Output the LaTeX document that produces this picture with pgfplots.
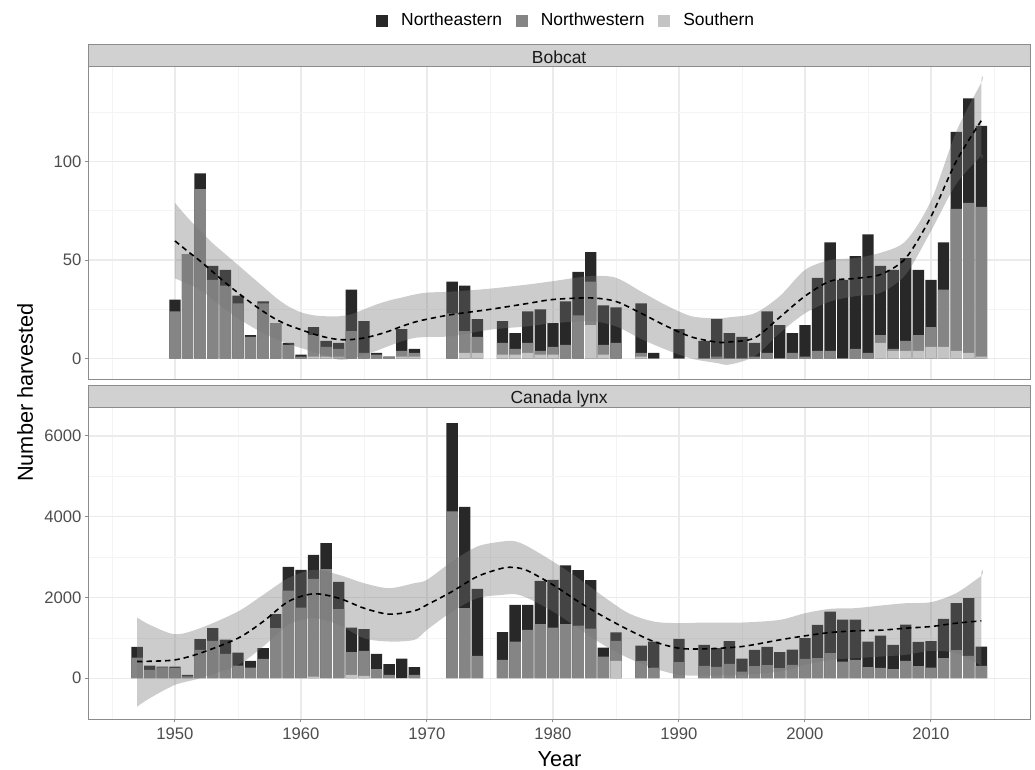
\documentclass[border=0pt]{standalone}
\usepackage{fontspec}
\setmainfont{Liberation Sans}
\usepackage{pgfplots}
\usepackage{pgfplotstable}
\pgfplotsset{compat=1.18}

\definecolor{cNE}{HTML}{282828}
\definecolor{cNW}{HTML}{858585}
\definecolor{cS}{HTML}{C4C4C4}
\definecolor{band}{HTML}{767676}
\definecolor{gridmaj}{HTML}{EBEBEB}
\definecolor{gridmin}{HTML}{F4F4F4}
\definecolor{frame}{HTML}{8C8C8C}
\definecolor{ticktext}{HTML}{4D4D4D}
\definecolor{strip}{HTML}{D1D1D1}

% bobcat harvest by region (bars)
\pgfplotstableread{
year S NW NE
1950 0 24 6
1951 0 53 0
1952 0 86 8
1953 0 40 7
1954 0 37 8
1955 0 28 4
1956 0 11 1
1957 0 28 1
1958 0 18 0
1959 0 7 1
1960 0 1 1
1961 1 11 4
1962 1 5 3
1963 1 4 3
1964 0 14 21
1965 0 3 16
1966 0 2 1
1967 0 1 0
1968 1 3 11
1969 1 2 2
1972 0 23 16
1973 3 11 23
1974 3 8 9
1976 2 6 11
1977 2 3 8
1978 3 5 16
1979 2 2 21
1980 2 4 12
1981 0 7 22
1982 0 22 22
1983 17 22 15
1984 2 5 20
1985 0 8 18
1987 1 2 25
1988 0 0 3
1990 0 0 15
1992 0 0 9
1993 0 1 19
1994 0 0 13
1995 0 0 11
1996 0 1 7
1997 0 3 21
1998 0 0 17
1999 0 3 10
2000 0 1 16
2001 0 4 37
2002 0 4 55
2003 0 0 40
2004 0 5 47
2005 0 3 60
2006 8 4 35
2007 4 1 40
2008 4 5 42
2009 4 8 33
2010 6 10 24
2011 6 29 24
2012 4 72 39
2013 3 76 53
2014 1 76 41
}\bobbars

% bobcat smoother fit
\pgfplotstableread{
year fit
1950 59.7
1951 54.5
1952 49.5
1953 44
1954 38.5
1955 33.4
1956 28.5
1957 24
1958 20
1959 17
1960 14.7
1961 12.5
1962 10.8
1963 9.7
1964 9.7
1965 10.5
1966 12
1967 14
1968 16.4
1969 18.5
1970 20
1972 22.4
1975 25
1978 28
1980 30
1983 30.8
1985 29
1987 23
1989 16.5
1991 11
1993 8.4
1994 8.5
1996 10.5
1998 21
2000 31.7
2002 39.3
2004 40.7
2006 42.7
2008 51
2010 72
2012 100
2014 120.7
}\bobfit

% Canada lynx harvest by region (bars)
\pgfplotstableread{
year S NW NE
1947 0 512 264
1948 0 206 108
1949 0 270 20
1950 0 250 40
1951 0 43 40
1952 0 702 264
1953 0 925 314
1954 0 603 355
1955 0 314 322
1956 0 264 166
1957 0 479 264
1958 0 1239 347
1959 0 2172 587
1960 0 1751 934
1961 40 2421 595
1962 0 2701 644
1963 0 1710 677
1964 83 562 611
1965 58 620 537
1966 0 223 380
1967 0 83 264
1968 0 0 487
1969 0 83 190
1972 0 4130 2189
1973 0 1735 2511
1974 0 553 1661
1976 0 454 686
1977 0 909 908
1978 0 1198 619
1979 0 1338 1074
1980 0 1256 1181
1981 0 1338 1454
1982 0 1305 1371
1983 0 1231 1197
1984 0 537 223
1985 430 496 207
1987 0 430 380
1988 0 264 644
1990 0 396 578
1992 0 306 520
1993 0 281 462
1994 0 355 562
1995 0 165 322
1996 0 297 405
1997 0 322 454
1998 0 248 396
1999 0 330 380
2000 0 479 512
2001 0 496 826
2002 0 620 1032
2003 0 413 1041
2004 0 454 1000
2005 0 273 636
2006 0 256 801
2007 0 223 603
2008 0 430 900
2009 0 297 603
2010 0 264 653
2011 0 496 974
2012 0 694 1165
2013 0 553 1429
2014 0 306 479
}\lynxbars

% lynx smoother fit
\pgfplotstableread{
year fit
1947 413
1948 420
1950 454
1952 620
1955 991
1957 1404
1959 1900
1961 2090
1963 1982
1965 1735
1967 1586
1969 1669
1970 1817
1972 2148
1974 2519
1976 2726
1977 2740
1978 2660
1980 2313
1982 1900
1984 1528
1986 1198
1988 909
1990 743
1992 727
1995 785
1998 950
2000 1049
2002 1132
2004 1173
2006 1189
2008 1239
2010 1280
2012 1363
2014 1421
}\lynxfit

\pgfplotsset{
  panel/.style={
    scale only axis,
    width=706.3pt,
    xmin=1943.12, xmax=2017.86,
    ybar, bar width=8.5pt,
    axis line style={draw=frame, line width=0.75pt},
    grid=both,
    major grid style={draw=gridmaj, line width=0.9pt},
    minor grid style={draw=gridmin, line width=0.5pt},
    xtick={1950,1960,...,2010},
    minor xtick={1945,1955,...,2015},
    xminorticks=false, yminorticks=false,
    tick align=outside,
    major tick length=2.5pt, minor tick length=0pt,
    ytick pos=left, xtick pos=bottom,
    major tick style={draw=frame, line width=0.75pt},
    ticklabel style={font=\fontsize{12.5}{15}\selectfont, text=ticktext},
    yticklabel style={inner sep=0pt, xshift=-2.4pt},
    xticklabel style={inner sep=0pt, yshift=-3.7pt},
    /pgf/number format/assume math mode=true,
  },
  harvest/.style={bar shift=0pt, draw=none,
    legend image code/.code={\fill[##1] (0pt,-4.5pt) rectangle (9pt,4.5pt);}},
  ribbon/.style={smooth, tension=0.5, fill=band, fill opacity=0.37, draw=none, forget plot},
  fitline/.style={smooth, black, line width=1.2pt, dash pattern=on 4pt off 3pt, fill=none, forget plot},
}

\begin{document}
\begin{tikzpicture}
\path[use as bounding box] (0,0) rectangle (776.25pt,576.75pt);

% ---- Bobcat panel ----
\begin{axis}[panel,
    at={(66.2pt,292.5pt)}, anchor=south west,
    height=234.2pt,
    ymin=-10.3, ymax=148,
    ytick={0,50,100}, yticklabels={0,50,100},
    minor ytick={25,75,125},
    xticklabels={}, xmajorticks=false,
    legend columns=3,
    legend style={at={(0.5064,1)}, anchor=center, yshift=34.65pt,
      draw=none, fill=none, inner sep=0pt,
      font=\fontsize{13.1}{15}\selectfont,
      nodes={inner sep=0pt},
      /tikz/every odd column/.append style={column sep=9.8pt},
      /tikz/every even column/.append style={column sep=10.2pt}},
  ]
  \addplot[harvest, fill=cNE] table[x=year, y expr=\thisrow{S}+\thisrow{NW}+\thisrow{NE}]{\bobbars};
  \addplot[harvest, fill=cNW] table[x=year, y expr=\thisrow{S}+\thisrow{NW}]{\bobbars};
  \addplot[harvest, fill=cS] table[x=year, y=S]{\bobbars};
  \legend{Northeastern, Northwestern, Southern}
  % confidence ribbon: upper edge forward, lower edge back
  \addplot[ribbon] coordinates {
    (1950,79) (1951,71.5) (1952,65) (1953,58.5) (1954,53) (1955,47.5) (1956,42)
    (1957,36.5) (1958,31) (1959,26.5) (1960,23.5) (1961,22) (1962,21.5) (1963,21.5)
    (1964,22.5) (1965,25) (1966,27.5) (1967,29.5) (1968,31) (1969,32.5) (1970,33.5)
    (1972,34) (1975,35.5) (1978,37.6) (1980,39.3) (1983,41.9) (1985,41) (1987,34)
    (1989,27) (1991,21.5) (1993,20.5) (1994,21) (1996,23) (1998,31.7) (2000,45)
    (2002,50) (2004,51) (2006,53.7) (2008,59.7) (2010,80) (2012,115) (2014,140) (2014,140)
    (2014,103) (2014,103) (2012,88.5) (2010,64.7) (2008,42.7) (2006,33.4) (2004,31.7)
    (2002,29) (2000,23) (1998,13) (1996,1.2) (1994,-3) (1993,-2.2) (1991,0) (1989,4.5)
    (1987,10) (1985,16.4) (1983,19) (1980,18) (1978,16.4) (1975,14.7) (1972,11.4)
    (1970,11) (1969,10.5) (1968,8.8) (1967,6.5) (1966,4) (1965,2) (1964,0) (1963,-0.5)
    (1962,1.5) (1961,3.5) (1960,5.4) (1959,7.5) (1958,10) (1957,13) (1956,16.5)
    (1955,20.5) (1954,25) (1953,30) (1952,35) (1951,38) (1950,40.7)
  };
  \addplot[fitline] table[x=year, y=fit]{\bobfit};
\end{axis}

% ---- Canada lynx panel ----
\begin{axis}[panel,
    at={(66.2pt,37.5pt)}, anchor=south west,
    height=233.8pt,
    ymin=-1010, ymax=6710,
    ytick={0,2000,4000,6000}, yticklabels={0,2000,4000,6000},
    minor ytick={1000,3000,5000},
    xticklabels={1950,1960,1970,1980,1990,2000,2010},
  ]
  \addplot[harvest, fill=cNE] table[x=year, y expr=\thisrow{S}+\thisrow{NW}+\thisrow{NE}]{\lynxbars};
  \addplot[harvest, fill=cNW] table[x=year, y expr=\thisrow{S}+\thisrow{NW}]{\lynxbars};
  \addplot[harvest, fill=cS] table[x=year, y=S]{\lynxbars};
  \addplot[ribbon] coordinates {
    (1947,1503) (1948,1322) (1950,1090) (1952,1239) (1955,1652) (1957,2065) (1959,2478)
    (1961,2685) (1963,2561) (1965,2354) (1967,2230) (1969,2354) (1970,2437) (1972,2891)
    (1974,3263) (1976,3387) (1977,3390) (1978,3263) (1980,2891) (1982,2478) (1984,2024)
    (1986,1610) (1988,1404) (1990,1363) (1992,1379) (1995,1379) (1998,1445) (2000,1610)
    (2002,1718) (2004,1735) (2006,1800) (2008,1858) (2010,1883) (2012,2106) (2014,2536) (2014,2536)
    (2014,310) (2014,310) (2012,620) (2010,677) (2008,578) (2006,537) (2004,496) (2002,454)
    (2000,330) (1998,165) (1995,83) (1992,66) (1990,83) (1988,248) (1986,496) (1984,826)
    (1982,1239) (1980,1652) (1978,1982) (1977,2080) (1976,2065) (1974,1982) (1972,1652)
    (1970,1198) (1969,950) (1967,909) (1965,991) (1963,1322) (1961,1487) (1959,1322)
    (1957,785) (1955,330) (1952,0) (1950,-165) (1948,-496) (1947,-702)
  };
  \addplot[fitline] table[x=year, y=fit]{\lynxfit};
\end{axis}

% facet strips
\draw[fill=strip, draw=frame, line width=0.75pt] (66.2pt,526.7pt) rectangle (772.5pt,543.2pt);
\node[anchor=base, inner sep=0pt, text=black!90, font=\fontsize{13.1}{15}\selectfont] at (419.35pt,529.3pt) {Bobcat};
\draw[fill=strip, draw=frame, line width=0.75pt] (66.2pt,271.3pt) rectangle (772.5pt,288pt);
\node[anchor=base, inner sep=0pt, text=black!90, font=\fontsize{13.1}{15}\selectfont] at (419.35pt,273.9pt) {Canada lynx};

% axis titles
\node[anchor=base, font=\fontsize{16.3}{19}\selectfont, inner sep=0pt] at (419.6pt,2pt) {Year};
\node[rotate=90, font=\fontsize{16.3}{19}\selectfont, inner sep=0pt] at (18.9pt,282.4pt) {Number harvested};
\end{tikzpicture}
\end{document}
